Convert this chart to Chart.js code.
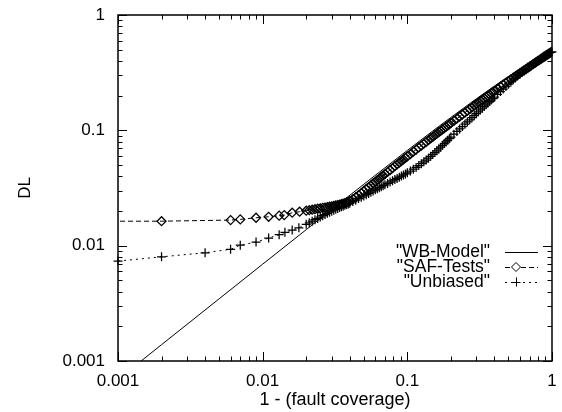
<!DOCTYPE html>
<html><head><meta charset="utf-8">
<script src="https://cdn.jsdelivr.net/npm/chart.js@4/dist/chart.umd.min.js"></script>
<style>html,body{margin:0;padding:0;background:#fff}</style>
</head><body>
<canvas id="c" width="562" height="412"></canvas>
<script>
// ---- data ----
const tickValues = [0.001, 0.01, 0.1, 1];
const tickLabels = ['0.001', '0.01', '0.1', '1'];
const seriesNames = ['"WB-Model"', '"SAF-Tests"', '"Unbiased"'];
const xTitle = '1 - (fault coverage)';
const yTitle = 'DL';

const wbX = [0.001, 0.002, 0.005, 0.01, 0.02, 0.03, 0.05, 0.07, 0.1, 0.15, 0.2, 0.3, 0.4, 0.5, 0.6, 0.7, 0.8, 0.9, 1.0];
const wbY = [0.000693, 0.001385, 0.00346, 0.00691, 0.01377, 0.02058, 0.03406, 0.04736, 0.06697, 0.0988, 0.1294, 0.1877, 0.2421, 0.2929, 0.3402, 0.3844, 0.4257, 0.4641, 0.5];

// shared x positions of the dense part of both test series
const denseX = [0.020, 0.021, 0.022, 0.023, 0.024, 0.025, 0.026, 0.027, 0.028, 0.029, 0.030, 0.031, 0.032, 0.033, 0.034, 0.035, 0.036, 0.037, 0.038, 0.039, 0.040,
  0.042, 0.044, 0.046, 0.048, 0.050, 0.052, 0.054, 0.056, 0.058, 0.060, 0.062, 0.064, 0.066, 0.068, 0.070, 0.073, 0.076, 0.079, 0.082, 0.085, 0.088, 0.091, 0.094, 0.097,
  0.100, 0.105, 0.110, 0.115, 0.120, 0.125, 0.130, 0.135, 0.140, 0.145, 0.150, 0.155, 0.160, 0.165, 0.170, 0.175, 0.180, 0.185, 0.190, 0.195,
  0.20, 0.21, 0.22, 0.23, 0.24, 0.25, 0.26, 0.27, 0.28, 0.29, 0.30, 0.31, 0.32, 0.33, 0.34, 0.35, 0.36, 0.37, 0.38, 0.39,
  0.40, 0.42, 0.44, 0.46, 0.48, 0.50, 0.52, 0.54, 0.56, 0.58, 0.60, 0.62, 0.64, 0.66, 0.68, 0.70, 0.72, 0.74, 0.76, 0.78,
  0.80, 0.82, 0.84, 0.86, 0.88, 0.90, 0.92, 0.94, 0.96, 0.98, 1.00];

const safSparseX = [0.0008, 0.002, 0.006, 0.007, 0.009, 0.011, 0.013, 0.0141, 0.016, 0.018];
const safSparseY = [0.0163, 0.0163, 0.01667, 0.0169, 0.01746, 0.0178, 0.0182, 0.0184, 0.0193, 0.0197];
const safDenseY = [0.0201, 0.0203, 0.0205, 0.0207, 0.0209, 0.0211, 0.0213, 0.0214, 0.0216, 0.0218, 0.0219, 0.0221, 0.0223, 0.0225, 0.0227, 0.0229, 0.0231, 0.0234, 0.0237, 0.0240, 0.0243,
  0.0253, 0.0263, 0.0274, 0.0286, 0.0298, 0.0310, 0.0322, 0.0334, 0.0346, 0.0358, 0.0370, 0.0382, 0.0394, 0.0406, 0.0418, 0.0436, 0.0453, 0.0471, 0.0489, 0.0507, 0.0524, 0.0542, 0.0559, 0.0577,
  0.0594, 0.0623, 0.0653, 0.0681, 0.0710, 0.0738, 0.0767, 0.0795, 0.0823, 0.0851, 0.0879, 0.0907, 0.0935, 0.0963, 0.0991, 0.1018, 0.1046, 0.1073, 0.1101, 0.1128,
  0.1155, 0.1210, 0.1265, 0.1318, 0.1372, 0.1425, 0.1478, 0.1530, 0.1583, 0.1637, 0.1690, 0.1741, 0.1792, 0.1842, 0.1893, 0.1943, 0.1993, 0.2043, 0.2093, 0.2143,
  0.2192, 0.2290, 0.2388, 0.2485, 0.2580, 0.2675, 0.2769, 0.2862, 0.2954, 0.3045, 0.3135, 0.3225, 0.3313, 0.3400, 0.3488, 0.3575, 0.3660, 0.3745, 0.3830, 0.3915,
  0.3998, 0.4080, 0.4163, 0.4245, 0.4328, 0.4410, 0.4493, 0.4577, 0.4660, 0.4730, 0.4800];

const unbSparseX = [0.001, 0.002, 0.004, 0.006, 0.007, 0.009, 0.011, 0.013, 0.01425, 0.016, 0.0178];
const unbSparseY = [0.00735, 0.0080, 0.00868, 0.0093, 0.0101, 0.01074, 0.01164, 0.01244, 0.01304, 0.01365, 0.01429];
const unbDenseY = [0.0153, 0.0158, 0.0163, 0.0168, 0.0172, 0.0177, 0.0182, 0.0186, 0.0191, 0.0195, 0.0199, 0.0203, 0.0207, 0.0210, 0.0214, 0.0217, 0.0220, 0.0224, 0.0227, 0.0230, 0.0233,
  0.0241, 0.0248, 0.0256, 0.0263, 0.0270, 0.0277, 0.0284, 0.0291, 0.0298, 0.0305, 0.0311, 0.0318, 0.0324, 0.0331, 0.0337, 0.0346, 0.0356, 0.0365, 0.0374, 0.0383, 0.0392, 0.0401, 0.0410, 0.0419,
  0.0428, 0.0444, 0.0460, 0.0477, 0.0495, 0.0514, 0.0533, 0.0553, 0.0573, 0.0595, 0.0618, 0.0641, 0.0665, 0.0690, 0.0715, 0.0741, 0.0767, 0.0793, 0.0820, 0.0847,
  0.0875, 0.0926, 0.0977, 0.1028, 0.1079, 0.1131, 0.1183, 0.1235, 0.1288, 0.1341, 0.1395, 0.1448, 0.1502, 0.1556, 0.1611, 0.1665, 0.1720, 0.1775, 0.1830, 0.1885,
  0.1940, 0.2053, 0.2167, 0.2280, 0.2395, 0.2510, 0.2625, 0.2740, 0.2855, 0.2970, 0.3068, 0.3166, 0.3262, 0.3357, 0.3452, 0.3548, 0.3643, 0.3738, 0.3832, 0.3927,
  0.4022, 0.4117, 0.4210, 0.4304, 0.4387, 0.4470, 0.4543, 0.4617, 0.4690, 0.4735, 0.4780];

const pts = (xs, ys) => xs.map((x, i) => ({x: x, y: ys[i]}));
const FONT = '"Liberation Sans", Arial, Helvetica, sans-serif';
const FS = 17;
const SAF_DASH = [5, 3];
const UNB_DASH = [2, 4];

const framePlugin = {
  id: 'frame',
  afterDatasetsDraw(chart) {
    const {ctx, chartArea: a, scales: {x, y}} = chart;
    ctx.save();
    ctx.strokeStyle = '#000';
    ctx.lineWidth = 1;
    ctx.setLineDash([]);
    const marks = [];
    for (let d = 0; d < tickValues.length; d++) {
      for (let m = 1; m <= 9; m++) {
        const v = tickValues[d] * m;
        if (v > tickValues[tickValues.length - 1] * 1.0001) break;
        marks.push({v: v, major: m === 1});
      }
    }
    ctx.beginPath();
    marks.forEach(t => {
      const len = t.major ? 9 : 4.5;
      const px = Math.round(x.getPixelForValue(t.v)) + 0.5;
      ctx.moveTo(px, a.bottom); ctx.lineTo(px, a.bottom - len);
      ctx.moveTo(px, a.top); ctx.lineTo(px, a.top + len);
      const py = Math.round(y.getPixelForValue(t.v)) + 0.5;
      ctx.moveTo(a.left, py); ctx.lineTo(a.left + len, py);
      ctx.moveTo(a.right, py); ctx.lineTo(a.right - len, py);
    });
    ctx.stroke();
    ctx.lineWidth = 1.5;
    ctx.strokeRect(a.left, a.top, a.right - a.left, a.bottom - a.top);
    ctx.restore();
  }
};

const legendPlugin = {
  id: 'keybox',
  afterDraw(chart) {
    const {ctx, chartArea: a} = chart;
    const textRight = a.right - 62;
    const x0 = a.right - 47, x1 = a.right - 14, xm = a.right - 36;
    const rows = [a.top + 237, a.top + 252, a.top + 267];
    ctx.save();
    ctx.font = '17.5px ' + FONT;
    ctx.fillStyle = '#000';
    ctx.textAlign = 'right';
    ctx.textBaseline = 'middle';
    const dashes = [[], SAF_DASH, UNB_DASH];
    seriesNames.forEach((name, i) => {
      ctx.fillText(name, textRight, rows[i]);
      ctx.beginPath();
      ctx.setLineDash(dashes[i]);
      ctx.lineWidth = 1;
      ctx.strokeStyle = '#000';
      ctx.moveTo(x0, rows[i] + 0.5); ctx.lineTo(x1, rows[i] + 0.5);
      ctx.stroke();
      ctx.setLineDash([]);
      if (i === 1) {
        ctx.beginPath();
        ctx.moveTo(xm, rows[i] - 4.5); ctx.lineTo(xm + 4.5, rows[i]);
        ctx.lineTo(xm, rows[i] + 4.5); ctx.lineTo(xm - 4.5, rows[i]); ctx.closePath();
        ctx.fillStyle = '#fff'; ctx.fill(); ctx.stroke();
        ctx.fillStyle = '#000';
      } else if (i === 2) {
        ctx.beginPath();
        ctx.moveTo(xm - 4.5, rows[i] + 0.5); ctx.lineTo(xm + 4.5, rows[i] + 0.5);
        ctx.moveTo(xm + 0.5, rows[i] - 4.5); ctx.lineTo(xm + 0.5, rows[i] + 4.5);
        ctx.stroke();
      }
    });
    ctx.restore();
  }
};

new Chart(document.getElementById('c').getContext('2d'), {
  type: 'scatter',
  data: {
    datasets: [
      {label: seriesNames[0], data: pts(wbX, wbY), showLine: true, borderColor: '#000', borderWidth: 1, pointRadius: 0, fill: false, tension: 0},
      {label: seriesNames[1], data: pts(safSparseX, safSparseY).concat(pts(denseX, safDenseY)), showLine: true, borderColor: '#000', borderWidth: 1, borderDash: SAF_DASH,
        pointStyle: 'rectRot', pointRadius: 4.5, pointBorderWidth: 1.25, pointBorderColor: '#000', pointBackgroundColor: 'rgba(0,0,0,0)', fill: false, tension: 0},
      {label: seriesNames[2], data: pts(unbSparseX, unbSparseY).concat(pts(denseX, unbDenseY)), showLine: true, borderColor: '#000', borderWidth: 1, borderDash: UNB_DASH,
        pointStyle: 'cross', pointRadius: 4.5, pointBorderWidth: 1.25, pointBorderColor: '#000', pointBackgroundColor: 'rgba(0,0,0,0)', fill: false, tension: 0, clip: false}
    ]
  },
  options: {
    responsive: false,
    animation: false,
    devicePixelRatio: 1,
    layout: {padding: {top: 15, right: 10, left: 0, bottom: 0}},
    plugins: {legend: {display: false}, tooltip: {enabled: false}},
    scales: {
      x: {
        type: 'logarithmic', position: 'bottom', min: 0.001, max: 1,
        grid: {display: false, drawTicks: false}, border: {display: false},
        afterBuildTicks: s => { s.ticks = tickValues.map(v => ({value: v})); },
        afterFit: s => { s.height = 51; s.paddingLeft = 0; s.paddingRight = 0; },
        ticks: {autoSkip: false, maxRotation: 0, padding: 10, color: '#000', font: {family: FONT, size: FS},
          callback: (v, i) => tickLabels[i]},
        title: {display: true, text: xTitle, color: '#000', font: {family: FONT, size: 18}, padding: {top: 0, bottom: 1}}
      },
      y: {
        type: 'logarithmic', position: 'left', min: 0.001, max: 1,
        grid: {display: false, drawTicks: false}, border: {display: false},
        afterBuildTicks: s => { s.ticks = tickValues.map(v => ({value: v})); },
        afterFit: s => { s.width = 118; s.paddingTop = 0; s.paddingBottom = 0; },
        ticks: {autoSkip: false, padding: 13, color: '#000', font: {family: FONT, size: FS},
          callback: (v, i) => tickLabels[i]},
        title: {display: true, text: yTitle, color: '#000', font: {family: FONT, size: FS}, padding: {top: 15, bottom: 0}}
      }
    }
  },
  plugins: [framePlugin, legendPlugin]
});
</script>
</body></html>
